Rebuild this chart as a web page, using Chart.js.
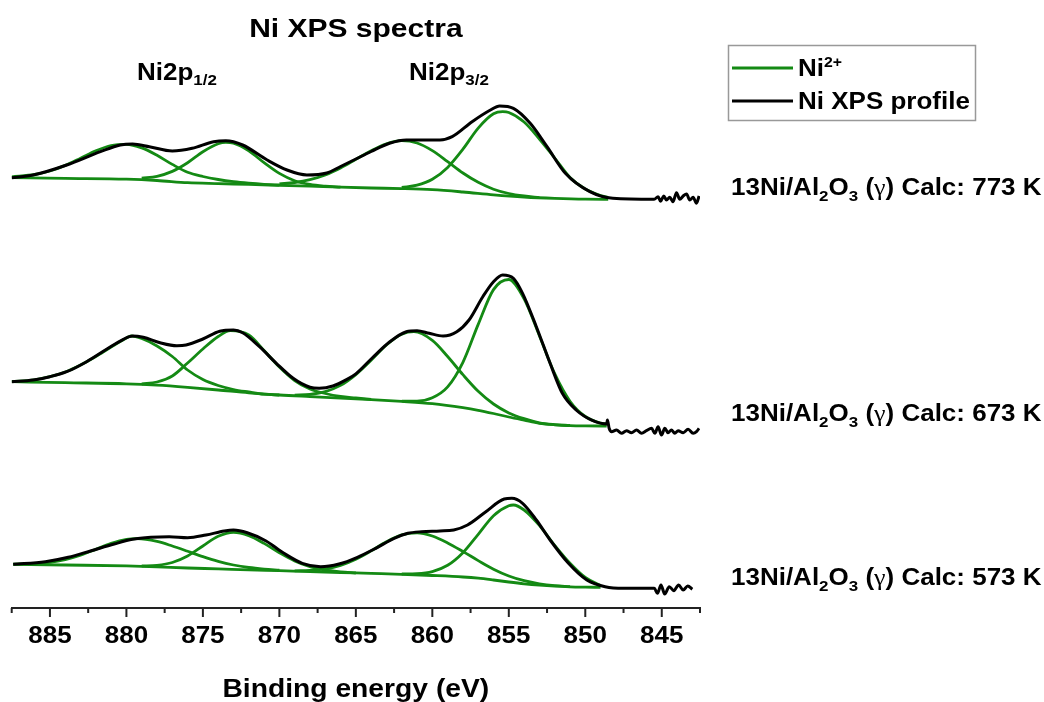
<!DOCTYPE html>
<html>
<head>
<meta charset="utf-8">
<title>Ni XPS spectra</title>
<script src="https://cdn.jsdelivr.net/npm/chart.js@4.4.0/dist/chart.umd.min.js"></script>
<style>
  html, body { margin: 0; padding: 0; background: #fff; }
  #wrap { width: 1044px; height: 702px; }
</style>
</head>
<body>
<div id="wrap"><canvas id="xps" width="1044" height="702"></canvas></div>
<script>
/**
 * Ni 2p XPS spectra of 13Ni/Al2O3 calcined at three temperatures.
 * Binding energy in eV, intensity in arbitrary units (spectra stacked).
 */

// x axis
const X_MIN = 842.5;
const X_MAX = 887.5;
const TICK_STEP = 2.5;
const LABEL_STEP = 5;

// ---- 773 K (top) ----
const e773Profile = [887.5, 886.1, 883.9, 881.7, 880.4, 879.6, 878.5, 877, 875.7, 874.3, 873.5, 872.4, 870.8, 869.5, 868.2, 866.9, 866, 865, 864, 862.8, 861.7, 859.5, 858.7, 857.4, 856.2, 855.6, 854.7, 853.6, 852.5, 851.3, 849.7, 848.2, 845.5,
  845.24, 845.08, 844.87, 844.69, 844.48, 844.26, 844.04, 843.82, 843.6, 843.38, 843.17, 842.95, 842.73, 842.56];
const i773Profile = [430.3, 433, 443, 456.3, 463, 464, 461.3, 457, 459.7, 466.3, 467.3, 463, 448, 438, 433, 435, 441.5, 449, 456.5, 464.7, 468, 468, 471.3, 486.3, 498, 502, 499.7, 484.7, 461.3, 434.7, 416.3, 409.7, 408.7,
  411.3, 406.7, 412, 408, 410.7, 406.3, 415.3, 408.7, 412, 414, 408, 410.7, 404.7, 412];
const e773Base = [887.5, 884, 880, 878, 876, 874, 872, 870, 868, 866, 864, 862, 860, 858, 856, 854, 852, 850, 848.5];
const i773Base = [430.3, 429.6, 428.8, 427.5, 425.3, 424.4, 423.6, 422.7, 421.8, 420.8, 420.0, 419.4, 418.3, 416.0, 413.2, 411.0, 409.6, 408.8, 408.7];
const e773P1 = [887.5, 886, 885, 884, 883, 882, 881, 880, 879, 878, 877, 876, 875, 874, 873, 872, 871, 870];
const i773P1 = [431.2, 433.5, 437, 442.6, 449.8, 457.2, 462.5, 463.7, 460.1, 452.7, 443.6, 435.7, 431.5, 428.5, 426.3, 424.8, 423.7, 423.0];
const e773P2 = [879, 878, 877, 876, 875, 874, 873.5, 873, 872, 871, 870, 869, 868, 867, 866];
const i773P2 = [429.8, 431.7, 436.6, 445.3, 456.3, 464.3, 465.7, 464.8, 457.2, 445.3, 434.6, 427.3, 423.6, 421.8, 420.8];
const e773P3 = [870, 869, 868, 867, 866, 865, 864, 863, 862, 861, 860, 859, 858, 857, 856, 855, 854, 853];
const i773P3 = [424.1, 425.5, 428.3, 433, 440, 448.6, 457.3, 464.2, 467.3, 465, 457.4, 446.4, 435, 425.7, 418.8, 414.5, 412, 410.4];
const e773P4 = [862, 861, 860, 859, 858, 857, 856, 855.4, 855, 854, 853, 852, 851, 850, 849, 848.5];
const i773P4 = [420.6, 422.8, 428.7, 440.6, 458.8, 479.9, 494.2, 496.3, 495.5, 486, 469, 450, 430.5, 419, 412.5, 410.5];

// ---- 673 K (middle) ----
const e673Profile = [887.5, 886.1, 885, 883.9, 882.6, 881.3, 880.2, 879.6, 878.9, 877.8, 876.7, 876.1, 875, 873.9, 873, 872.4, 871.3, 870.2, 869.1, 868, 867.4, 866.5, 865.6, 865, 863.9, 862.8, 861.7, 861, 860.2, 859.3, 858.4, 857.6, 856.7, 856, 855.4, 854.7, 854.1, 853.2, 852.3, 851.5, 850.6, 849.5, 848.6,
  848.55, 848.44, 848.28, 847.96, 847.63, 847.3, 846.98, 846.65, 846.32, 846.0, 845.67, 845.45, 845.24, 845.02, 844.8, 844.59, 844.37, 844.15, 843.93, 843.6, 843.28, 842.95, 842.73, 842.56];
const i673Profile = [226.3, 228, 231.3, 236.3, 246.3, 258.7, 268.7, 272, 270.7, 265.3, 262.3, 263, 269, 276.7, 278, 275.3, 261.3, 244.7, 229.7, 220.7, 219.7, 222, 228.5, 234.2, 250.5, 266, 276.3, 277.3, 274.7, 272, 276.3, 288, 311.3, 326.3, 333, 329.7, 314.7, 281.3, 244.7, 214.7, 198, 187.3, 184,
  188, 179.7, 176.3, 178, 174.7, 177.3, 175.3, 178, 174.7, 177.3, 179.7, 174.7, 181.3, 173, 179.7, 175.3, 178, 174.7, 177.3, 175.3, 178.7, 174.7, 176.3, 179.7];
const e673Base = [887.5, 884, 880, 878, 876, 874, 872, 870, 868, 866, 864, 862, 860, 858, 857, 856, 855, 854, 853, 852, 851, 850, 848.6];
const i673Base = [226.3, 225.3, 224.2, 222.8, 220.6, 218, 215.2, 213, 211.4, 209.9, 208.4, 206.6, 204.3, 200.3, 197.7, 194.5, 191, 187.8, 184.7, 183.2, 182.4, 182.1, 182];
const e673P1 = [887.5, 886, 885, 884, 883, 882, 881, 880, 879.7, 879, 878, 877, 876, 875, 874, 873, 872, 871, 870];
const i673P1 = [226.3, 228.2, 231.3, 236, 243, 251.5, 261, 270, 272, 269.5, 262, 251.5, 238, 228.5, 222.5, 218.5, 216, 213.8, 213];
const e673P2 = [879, 878, 877, 876, 875, 874, 873.2, 872, 871, 870, 869, 868, 867, 866, 865, 864];
const i673P2 = [224, 226, 232, 245, 259, 271.5, 277.3, 273, 257.5, 241, 227.5, 219, 214.5, 211.5, 210, 208.6];
const e673P3 = [869, 868, 867, 866, 865, 864, 863, 862, 861.2, 860, 859, 858, 857, 856, 855, 854, 853, 852, 851];
const i673P3 = [212.9, 213.7, 216.4, 222.6, 233.4, 247.7, 263, 273.7, 276.3, 267.6, 251.5, 233.3, 216.7, 204, 195.1, 189.3, 185.2, 183.4, 182.5];
const e673P4 = [862, 861, 860, 859, 858, 857, 856, 855, 854, 853, 852, 851, 850, 849, 848.6];
const i673P4 = [206.9, 206.9, 210.2, 221.1, 245.7, 283.6, 318.4, 328.5, 309.2, 272.3, 234.3, 206.8, 191.5, 185, 184];

// ---- 573 K (bottom) ----
const e573Profile = [887.4, 885.3, 883.8, 882.3, 880.8, 879.6, 878.4, 877.2, 876, 874.8, 873.6, 873, 872.1, 870.9, 869.7, 868.5, 867.3, 866.1, 864.9, 863.7, 862.5, 861.6, 860.7, 859.5, 858.6, 857.7, 856.5, 855.3, 854.8, 854.1, 853.2, 852.3, 851.1, 849.9, 848.7, 847.5, 845.7,
  845.49, 845.28, 845.05, 844.81, 844.51, 844.21, 843.9, 843.6, 843.3, 843.0];
const i573Profile = [43.7, 46.3, 50.7, 57.3, 64, 68.7, 70.7, 71.3, 70.3, 73, 77, 78, 75.3, 67.3, 54.7, 44.7, 41.3, 44, 50.7, 59.7, 69.7, 74.7, 76.3, 77, 78, 83, 96.3, 109, 109.7, 104.7, 88, 68, 44.7, 28, 21.3, 19.7, 19.7,
  19.7, 14.7, 23, 14, 21.3, 17.3, 23, 18, 22, 18.7];
const e573Base = [887.4, 884, 880, 878, 876, 874, 872, 870, 868, 866, 864, 862, 860, 858, 857, 856, 855, 854, 853, 852, 851, 850, 849];
const i573Base = [43.7, 43, 42.1, 41.1, 40, 39.1, 38.1, 37.3, 36.4, 35.5, 34.6, 33.7, 32.5, 31, 29.8, 28, 26, 24.2, 22.8, 21.8, 21.2, 20.9, 20.7];
const e573P1 = [887.4, 886, 885, 884, 883, 882, 881, 880, 879.3, 878, 877, 876, 875, 874, 873, 872, 871, 870];
const i573P1 = [43.9, 44.3, 45.6, 48.4, 52.8, 58.6, 64.6, 68.6, 69.3, 66.6, 62, 56.7, 51.3, 46.6, 43, 40.5, 38.9, 37.8];
const e573P2 = [879, 878, 877, 876, 875, 874, 873, 872, 871, 870, 869, 868, 867, 866, 865];
const i573P2 = [42, 42.7, 45.5, 52, 62, 71.7, 75.6, 72.3, 64.6, 55.3, 47.1, 41.4, 38, 36.2, 35];
const e573P3 = [869, 868, 867, 866, 865, 864, 863, 862, 861, 860, 859, 858, 857, 856, 855, 854, 853, 852, 851];
const i573P3 = [37.2, 37.7, 39.1, 42.6, 48.7, 57.1, 66.3, 73.2, 75.2, 72, 65.1, 56.5, 47.4, 38.8, 32, 27.3, 24.2, 22.3, 21.3];
const e573P4 = [862, 861, 860, 859, 858, 857, 856, 855, 854.7, 854, 853, 852, 851, 850, 849];
const i573P4 = [34, 34.3, 36.4, 42.7, 55.3, 73.7, 92.3, 102.2, 103, 98, 82.6, 62.6, 44.7, 30.5, 22.5];

// labels
const SAMPLE_TEMPS = ['773 K', '673 K', '573 K'];
const PEAK_LABELS = ['1/2', '3/2'];

const FONT = '"Liberation Sans", Arial, Helvetica, sans-serif';
const GREEN = '#148a14';
const BLACK = '#000000';
const SX = 1.13; // text in the figure runs a little wide

function toPoints(energies, intensities) {
  return energies.map((e, i) => ({ x: e, y: intensities[i] }));
}

function curve(energies, intensities, color, width, order) {
  return {
    data: toPoints(energies, intensities),
    borderColor: color,
    borderWidth: width,
    pointRadius: 0,
    fill: false,
    cubicInterpolationMode: 'monotone',
    order: order
  };
}

/**
 * Draw a run of text pieces (for sub/superscripts), stretched by sx.
 */
function drawRich(ctx, parts, x, y, align, sx = SX) {
  const widths = parts.map(p => {
    ctx.font = `${p.weight || 'bold'} ${p.size}px ${p.family || FONT}`;
    return ctx.measureText(p.text).width;
  });
  const total = widths.reduce((a, b) => a + b, 0) * sx;
  const startX = align === 'center' ? x - total / 2 : x;
  ctx.save();
  ctx.translate(startX, y);
  ctx.scale(sx, 1);
  let cx = 0;
  parts.forEach((p, i) => {
    ctx.font = `${p.weight || 'bold'} ${p.size}px ${p.family || FONT}`;
    ctx.fillText(p.text, cx, p.dy || 0);
    cx += widths[i];
  });
  ctx.restore();
}

function sampleLabel(temp) {
  return [
    { text: '13Ni/Al', size: 23 },
    { text: '2', size: 15, dy: 6 },
    { text: 'O', size: 23 },
    { text: '3', size: 15, dy: 6 },
    { text: ' (', size: 23 },
    { text: 'γ', size: 23, family: '"Liberation Serif", serif', weight: 'normal' },
    { text: ') Calc: ' + temp, size: 23 }
  ];
}

const annotations = {
  id: 'annotations',
  afterDraw(chart) {
    const ctx = chart.ctx;
    const xs = chart.scales.x;
    const area = chart.chartArea;
    ctx.save();

    // tick marks (long on labelled values) and tick labels
    ctx.strokeStyle = '#222';
    ctx.lineWidth = 2;
    ctx.fillStyle = '#000';
    xs.ticks.forEach(t => {
      const px = xs.getPixelForValue(t.value);
      const major = t.value % LABEL_STEP === 0;
      ctx.beginPath();
      ctx.moveTo(px, xs.top);
      ctx.lineTo(px, xs.top + (major ? 9 : 5));
      ctx.stroke();
      if (major) drawRich(ctx, [{ text: String(t.value), size: 23 }], px, 643, 'center');
    });

    ctx.textBaseline = 'alphabetic';

    // titles, centred on the plot area
    const midX = (area.left + area.right) / 2;
    drawRich(ctx, [{ text: 'Ni XPS spectra', size: 25 }], midX, 37, 'center', 1.2);
    drawRich(ctx, [{ text: 'Binding energy (eV)', size: 25 }], midX, 697, 'center');

    // peak region labels
    drawRich(ctx, [{ text: 'Ni2p', size: 23 }, { text: PEAK_LABELS[0], size: 15, dy: 5 }], 137, 80);
    drawRich(ctx, [{ text: 'Ni2p', size: 23 }, { text: PEAK_LABELS[1], size: 15, dy: 5 }], 409, 80);

    // sample labels
    const baselines = [195, 421, 585];
    SAMPLE_TEMPS.forEach((t, i) => drawRich(ctx, sampleLabel(t), 731, baselines[i]));

    // legend
    ctx.strokeStyle = '#999';
    ctx.lineWidth = 1.5;
    ctx.strokeRect(728.5, 45.5, 247, 75);
    ctx.lineWidth = 2.8;
    ctx.strokeStyle = GREEN;
    ctx.beginPath(); ctx.moveTo(732, 68); ctx.lineTo(793, 68); ctx.stroke();
    ctx.lineWidth = 3;
    ctx.strokeStyle = BLACK;
    ctx.beginPath(); ctx.moveTo(732, 101); ctx.lineTo(793, 101); ctx.stroke();
    drawRich(ctx, [{ text: 'Ni', size: 23 }, { text: '2+', size: 14, dy: -9 }], 798, 76);
    drawRich(ctx, [{ text: 'Ni XPS profile', size: 23 }], 798, 109);

    ctx.restore();
  }
};

const datasets = [
  curve(e773Profile, i773Profile, BLACK, 3, 0),
  curve(e673Profile, i673Profile, BLACK, 3, 0),
  curve(e573Profile, i573Profile, BLACK, 3, 0),
  curve(e773Base, i773Base, GREEN, 2.8, 1),
  curve(e773P1, i773P1, GREEN, 2.8, 1),
  curve(e773P2, i773P2, GREEN, 2.8, 1),
  curve(e773P3, i773P3, GREEN, 2.8, 1),
  curve(e773P4, i773P4, GREEN, 2.8, 1),
  curve(e673Base, i673Base, GREEN, 2.8, 1),
  curve(e673P1, i673P1, GREEN, 2.8, 1),
  curve(e673P2, i673P2, GREEN, 2.8, 1),
  curve(e673P3, i673P3, GREEN, 2.8, 1),
  curve(e673P4, i673P4, GREEN, 2.8, 1),
  curve(e573Base, i573Base, GREEN, 2.8, 1),
  curve(e573P1, i573P1, GREEN, 2.8, 1),
  curve(e573P2, i573P2, GREEN, 2.8, 1),
  curve(e573P3, i573P3, GREEN, 2.8, 1),
  curve(e573P4, i573P4, GREEN, 2.8, 1)
];

new Chart(document.getElementById('xps').getContext('2d'), {
  type: 'line',
  data: { datasets: datasets },
  options: {
    responsive: false,
    animation: false,
    devicePixelRatio: 1,
    layout: { padding: { left: 11.7, right: 344, top: 48, bottom: 0 } },
    plugins: { legend: { display: false }, title: { display: false }, tooltip: { enabled: false } },
    scales: {
      x: {
        type: 'linear',
        reverse: true,
        min: X_MIN,
        max: X_MAX,
        afterFit(scale) { scale.height = 94; },
        grid: { display: false, drawTicks: false },
        border: { display: true, color: '#222', width: 2 },
        ticks: { stepSize: TICK_STEP, autoSkip: false, display: false }
      },
      y: { type: 'linear', display: false, min: 0, max: 560 }
    }
  },
  plugins: [annotations]
});
</script>
</body>
</html>
